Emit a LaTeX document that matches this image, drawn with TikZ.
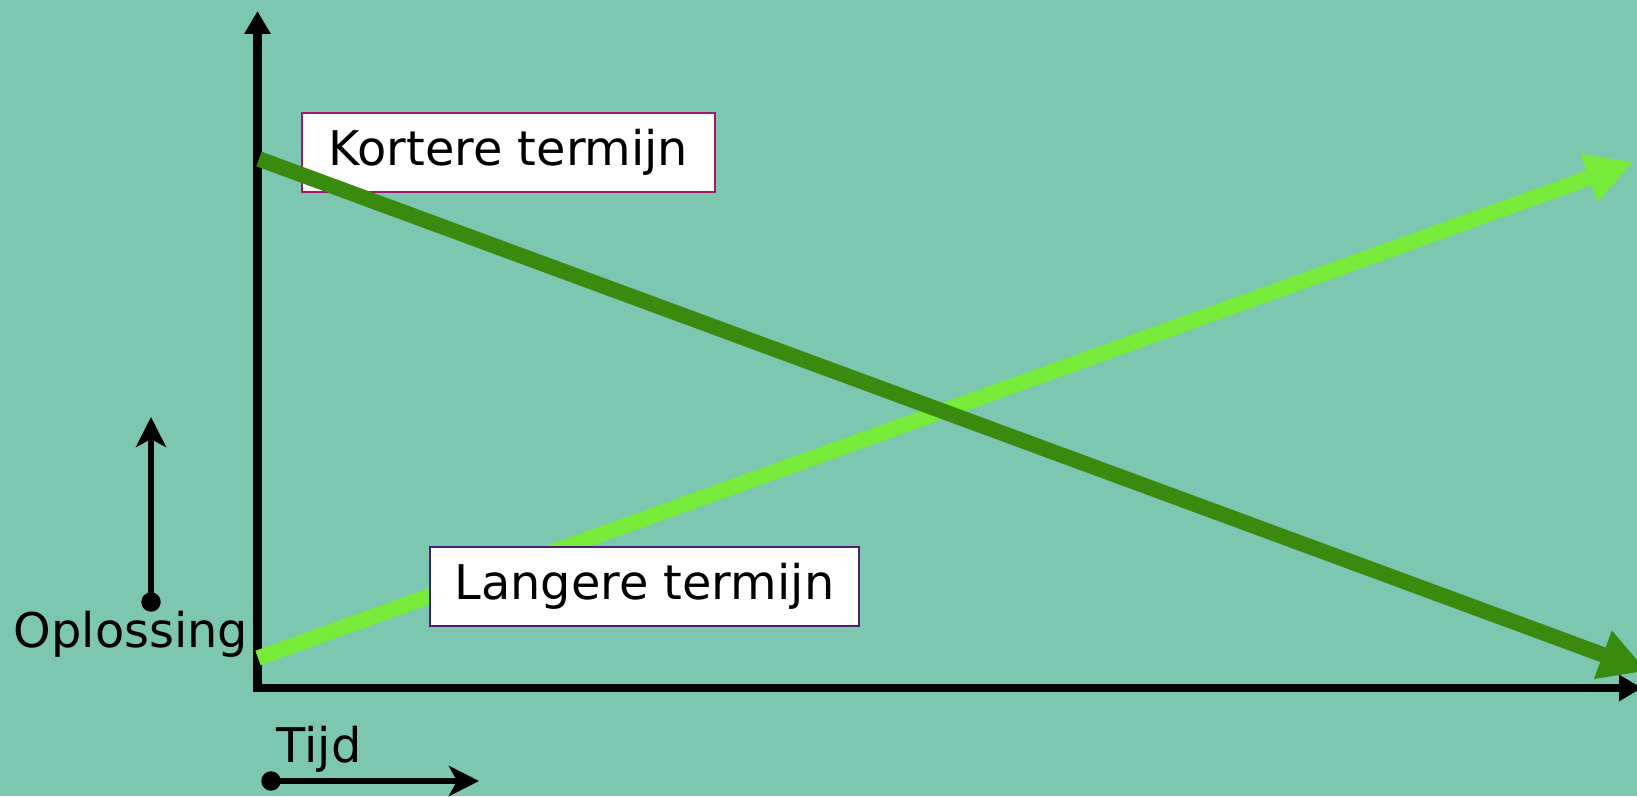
\documentclass[tikz,border=0pt]{standalone}
\usepackage{fontspec}
\setmainfont{DejaVu Sans}
\usetikzlibrary{arrows.meta}
\definecolor{bgteal}{RGB}{125,198,175}
\definecolor{darkgr}{RGB}{58,138,15}
\definecolor{lightgr}{RGB}{119,235,58}
\definecolor{kortrand}{RGB}{163,24,107}
\definecolor{langrand}{RGB}{75,31,111}
\tikzset{
  labelbox/.style={draw, fill=white, line width=0.6pt, minimum height=0.79cm, inner sep=0pt, font=\fontsize{13.6}{16}\selectfont},
  axis/.style={line width=2.3pt, -{Triangle[length=0.23cm, width=0.25cm]}},
  smallarrow/.style={line width=1.7pt, -{Stealth[length=0.3cm, width=0.3cm, inset=0.08cm]}},
  trend/.style={line width=4.4pt, -{Triangle[length=0.47cm, width=0.48cm]}}
}
\begin{document}
\begin{tikzpicture}
	    \fill[bgteal] (0,0) rectangle (16.37,7.96);
	    \clip (0,0) rectangle (16.37,7.96);
	    \coordinate (O) at (2.575,1.08);
	    \coordinate (ytop) at (2.575,7.85);
	    \coordinate (xend) at (16.42,1.08);
	    \draw[axis] (2.575,1.04)--(ytop);
	    \draw[axis] (2.535,1.08)--(xend);
	    \filldraw[black] (1.51,1.94) circle(0.09) coordinate (opl0);
	    \coordinate (opl1) at (1.51,3.79);
	    \draw[smallarrow] (opl0)--(opl1);
	    \node[anchor=base, font=\fontsize{13.6}{16}\selectfont] (oplossing) at (1.31,1.49) {Oplossing};
	    \filldraw[black] (2.71,0.15) circle(0.09) coordinate (tijd0);
	    \coordinate (tijd1) at (4.79,0.15);
	    \draw[smallarrow] (tijd0)--(tijd1);
	    \node[anchor=base west, inner sep=0pt, font=\fontsize{13.6}{16}\selectfont] (tijd) at (2.76,0.34) {Tijd};
	    \coordinate (lang0) at (2.58,1.38);
	    \coordinate (lang1) at (16.33,6.34);
	    \draw[trend, lightgr] (lang0)--(lang1);
	    \node[labelbox, draw=langrand, minimum width=4.29cm] (langere) at (6.445,2.095) {Langere termijn};
	    \node[labelbox, draw=kortrand, minimum width=4.13cm] (kortere) at (5.085,6.435) {Kortere termijn};
	    \coordinate (kort0) at (2.59,6.37);
	    \coordinate (kort1) at (16.47,1.25);
	    \draw[trend, darkgr] (kort0)--(kort1);
	\end{tikzpicture}
\end{document}
